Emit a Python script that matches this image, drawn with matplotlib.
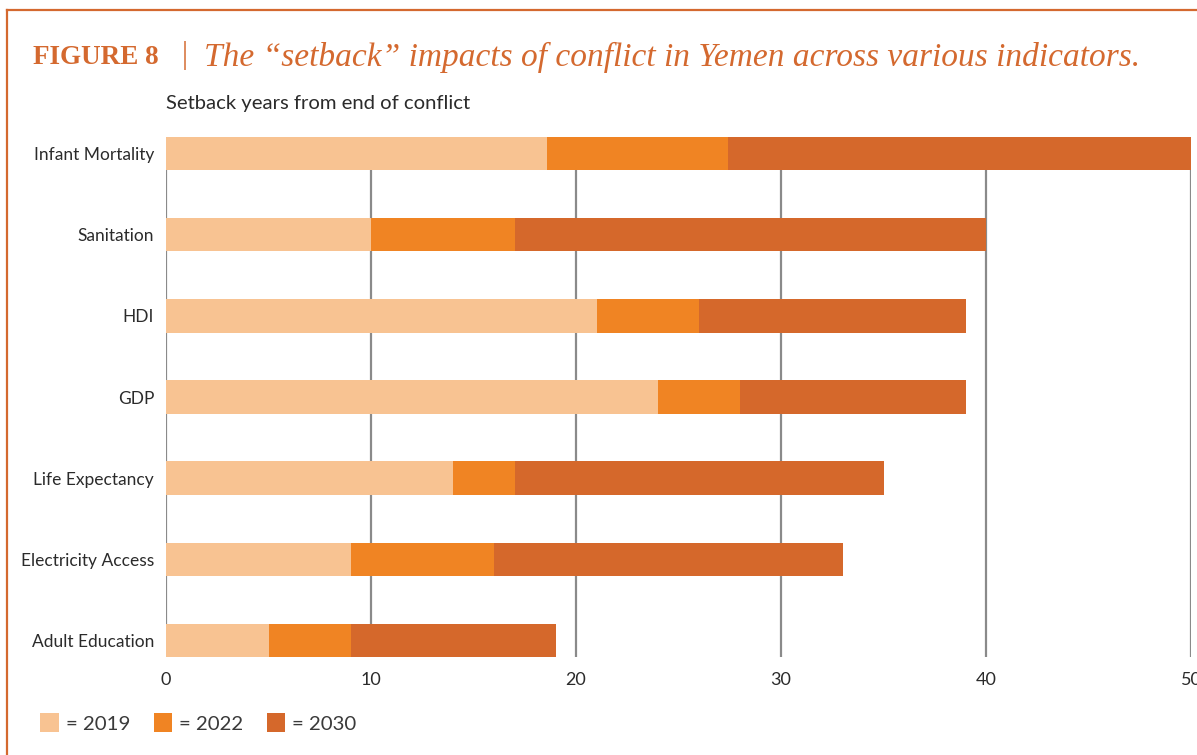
import matplotlib.pyplot as plt
from matplotlib.patches import Patch
from matplotlib.lines import Line2D

# indicators, top to bottom
indicators = ["Infant Mortality", "Sanitation", "HDI", "GDP",
              "Life Expectancy", "Electricity Access", "Adult Education"]

# setback years added by each scenario (stacked segments)
years_2019 = [18.6, 10, 21, 24, 14, 9, 5]
years_2022 = [8.8, 7, 5, 4, 3, 7, 4]
years_2030 = [22.6, 23, 13, 11, 18, 17, 10]

series_labels = ["= 2019", "= 2022", "= 2030"]
colors = ["#F8C392", "#F08423", "#D5682B"]
title_orange = "#D4692F"

fig = plt.figure(figsize=(11.97, 7.55), dpi=100)
ax = fig.add_axes([166 / 1197, 98 / 755, 1025 / 1197, 520 / 755])

ypos = list(range(len(indicators)))
left = [0] * len(indicators)
for vals, col in zip([years_2019, years_2022, years_2030], colors):
    ax.barh(ypos, vals, left=left, height=0.41, color=col, zorder=3)
    left = [l + v for l, v in zip(left, vals)]

ax.set_xlim(0, 50)
ax.set_ylim(len(indicators) - 1 + 0.205, -0.205)
ax.set_xticks([0, 10, 20, 30, 40, 50])
ax.set_yticks(ypos)
ax.set_yticklabels(indicators, fontsize=12.5, color="#2b2b2b", family="Lato")
for lab in ax.get_xticklabels():
    lab.set_fontsize(13)
    lab.set_color("#2b2b2b")
    lab.set_family("Lato")
ax.tick_params(axis="both", length=0)
ax.tick_params(axis="y", pad=8.5)
ax.tick_params(axis="x", pad=11)
ax.grid(axis="x", color="#8a8a8a", linewidth=1.6, zorder=0)
ax.set_axisbelow(True)
for s in ax.spines.values():
    s.set_visible(False)

# frame lines
fig.add_artist(Line2D([7 / 1197, 7 / 1197], [0, 1 - 10 / 755],
                      color=title_orange, linewidth=1.6, transform=fig.transFigure))
fig.add_artist(Line2D([7 / 1197, 1.01], [1 - 10 / 755, 1 - 10 / 755],
                      color=title_orange, linewidth=1.6, transform=fig.transFigure))

# title
fig.text(33 / 1197, 1 - 57 / 755, "FIGURE 8", fontsize=19.5, fontweight="bold",
         family="Liberation Serif", color=title_orange, va="center", ha="left")
fig.text(182 / 1197, 1 - 56 / 755, "|", fontsize=22, family="Liberation Serif",
         color=title_orange, va="center", ha="left")
fig.text(204 / 1197, 1 - 57 / 755,
         "The \u201csetback\u201d impacts of conflict in Yemen across various indicators.",
         fontsize=24, style="italic", family="Liberation Serif",
         color=title_orange, va="center", ha="left")

fig.text(166 / 1197, 1 - 104 / 755, "Setback years from end of conflict",
         fontsize=14.6, family="Lato", color="#2b2b2b", va="center", ha="left")

handles = [Patch(facecolor=c, edgecolor="none") for c in colors]
fig.legend(handles, series_labels, loc="center left",
           bbox_to_anchor=(22 / 1197, 1 - 723 / 755), ncol=3, frameon=False,
           handlelength=0.9, handleheight=1.0, handletextpad=0.35,
           columnspacing=1.15, prop={"family": "Lato", "size": 14.7},
           labelcolor="#3a3a3a")

fig.savefig("out.png", dpi=100)
